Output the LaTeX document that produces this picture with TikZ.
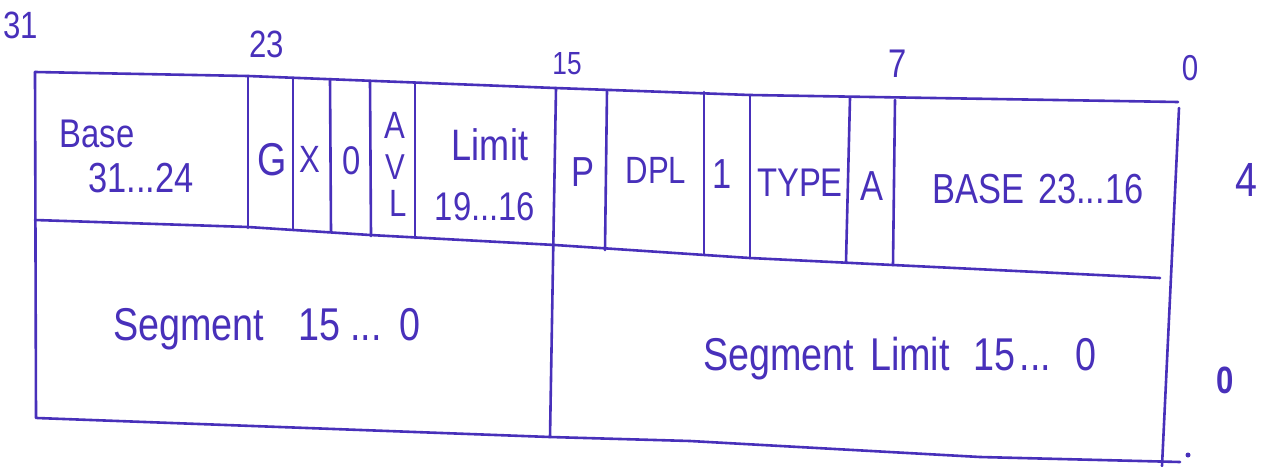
\documentclass[tikz,border=0pt]{standalone}
\usepackage{fontspec}
\newfontfamily\hand{Liberation Sans}[FakeStretch=0.82]
\definecolor{ink}{RGB}{72,48,186}
\begin{document}
\begin{tikzpicture}[x=1pt,y=-1pt,
  pen/.style={draw=ink,line width=2.6pt,line cap=round,line join=round},
  lbl/.style={text=ink,inner sep=0pt,font=\hand\fontsize{#1}{#1}\selectfont},
  lbl/.default=40]
\useasboundingbox (0,0) rectangle (1266,466);
% outer frame and row lines
\draw[pen] (35,72) -- (248,76) -- (555,88) -- (750,95) -- (1178,102);
\draw[pen] (35,72) -- (36,418);
\draw[pen] (35,220) -- (248,227) -- (370,235) -- (555,245) -- (750,258) -- (893,265) -- (1160,278);
\draw[pen] (37,418) -- (550,437) -- (690,441) -- (980,457) -- (1180,462);
\draw[pen] (1179,108) -- (1162,466);
\draw[pen] (556,88) -- (550,437);
% field separators of the upper word
\draw[pen] (248,76) -- (248,228);
\draw[pen] (293,78) -- (293,230);
\draw[pen] (330,79) -- (331,232);
\draw[pen] (370,81) -- (371,236);
\draw[pen] (415,83) -- (415,238);
\draw[pen] (607,90) -- (605,250);
\draw[pen] (704,92) -- (704,255);
\draw[pen] (750,95) -- (750,258);
\draw[pen] (850,98) -- (846,262);
\draw[pen] (895,100) -- (893,265);
% field labels
\node[lbl, anchor=base] (base) at (97,147) {Base};
\node[lbl=42, anchor=base] (base31) at (141,192) {31...24};
\node[lbl=46] (g) at (272,160) {G};
\node[lbl=38] (x) at (310,159) {X};
\node[lbl=40] (zero) at (352,161) {0};
\node[lbl=38] (avla) at (395,125) {A};
\node[lbl=36] (avlv) at (395,167) {V};
\node[lbl=38] (avll) at (398,203) {L};
\node[lbl=44, anchor=base] (limit) at (490,160) {Limit};
\node[lbl=40, anchor=base] (lim19) at (485,220) {19...16};
\node[lbl=42] (p) at (583,172) {P};
\node[lbl=38] (dpl) at (656,170) {DPL};
\node[lbl=42] (one) at (722,174) {1};
\node[lbl=40] (type) at (800,183) {TYPE};
\node[lbl=42] (acc) at (872,186) {A};
\node[lbl=42, anchor=base west] (base23) at (932,203) {BASE\hspace{14pt}23...16};
\node[lbl=46, anchor=base west] (seg) at (113,340) {Segment\hspace{34pt}15\hspace{10pt}...\hspace{18pt}0};
\node[lbl=46, anchor=base west] (seglim) at (703,370) {Segment\hspace{16pt}Limit\hspace{24pt}15\hspace{4pt}...\hspace{24pt}0};
% bit numbers and byte offsets
\node[lbl=38] (b31) at (21,25) {31};
\node[lbl=38] (b23) at (267,44) {23};
\node[lbl=32] (b15) at (567,64) {15};
\node[lbl=40] (b7) at (898,64) {7};
\node[lbl=36] (b0) at (1190,68) {0};
\node[lbl=48] (off4) at (1246,180) {4};
\node[lbl=36, font=\hand\bfseries\fontsize{38}{38}\selectfont] (off0) at (1225,380) {0};
\fill[ink] (1188,455) circle (2.5);
\end{tikzpicture}
\end{document}
